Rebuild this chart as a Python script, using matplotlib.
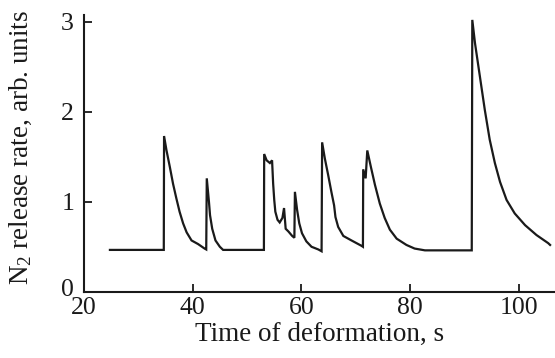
import numpy as np
import matplotlib
matplotlib.use('Agg')
import matplotlib.pyplot as plt
import matplotlib.transforms as mtransforms

plt.rcParams['font.family'] = 'Liberation Serif'
plt.rcParams['mathtext.fontset'] = 'custom'
plt.rcParams['mathtext.rm'] = 'Liberation Serif'
plt.rcParams['mathtext.it'] = 'Liberation Serif:italic'

# Curve: time (s) and N2 release rate (arb. units)
time = [24.8, 34.7, 34.75, 35.2, 35.8, 36.4, 37.0, 37.6, 38.25, 38.9,
        39.8, 41.0, 42.2, 42.5, 42.6, 43.0, 43.2, 43.6, 44.2, 45.0,
        45.6, 53.1, 53.15, 53.6, 54.2, 54.6, 54.8, 55.0, 55.2, 55.6,
        56.0, 56.5, 56.8, 57.1, 57.6, 58.3, 58.7, 58.8, 59.2, 59.6,
        60.1, 60.9, 61.85, 63.1, 63.7, 63.8, 64.3, 64.9, 65.5, 66.0,
        66.25, 66.75, 67.7, 69.2, 71.05, 71.3, 71.35, 71.8, 72.1, 72.75,
        73.5, 74.4, 75.3, 76.25, 77.5, 79.3, 80.8, 82.7, 91.3, 91.4,
        91.9, 92.8, 93.7, 94.6, 95.55, 96.5, 97.7, 99.2, 101.1, 103.2,
        105.35, 105.7]
rate = [0.465, 0.465, 1.73, 1.57, 1.39, 1.20, 1.04, 0.89, 0.76, 0.66,
        0.57, 0.53, 0.48, 0.47, 1.26, 1.00, 0.85, 0.70, 0.57, 0.50,
        0.465, 0.465, 1.53, 1.46, 1.43, 1.46, 1.20, 1.02, 0.89, 0.80,
        0.77, 0.82, 0.93, 0.70, 0.67, 0.62, 0.60, 1.11, 0.91, 0.76,
        0.65, 0.56, 0.50, 0.47, 0.45, 1.66, 1.48, 1.30, 1.11, 0.96,
        0.83, 0.72, 0.62, 0.57, 0.51, 0.50, 1.36, 1.26, 1.57, 1.39,
        1.19, 0.98, 0.82, 0.69, 0.59, 0.52, 0.48, 0.46, 0.46, 3.02,
        2.76, 2.39, 2.02, 1.69, 1.43, 1.22, 1.02, 0.87, 0.74, 0.63,
        0.54, 0.52]

xticks = [20, 40, 60, 80, 100]
yticks = [0, 1, 2, 3]

fig = plt.figure(figsize=(5.55, 3.58), dpi=100)
ax = fig.add_axes([0.151, 0.185, 0.849, 0.773])
ax.plot(time, rate, color='#1a1a1a', linewidth=1.6, solid_joinstyle='miter')

ax.set_xlim(20, 106.6)
ax.set_ylim(0, 3.074)
ax.set_xticks(xticks)
ax.set_yticks(yticks)
ax.spines['top'].set_visible(False)
ax.spines['right'].set_visible(False)
for s in ['left', 'bottom']:
    ax.spines[s].set_linewidth(1.5)
    ax.spines[s].set_color('#1a1a1a')
ax.tick_params(axis='both', direction='in', length=6, width=1.3, labelsize=18.5, colors='#1a1a1a')
ax.tick_params(axis='x', pad=3.5)
ax.tick_params(axis='y', pad=7)

# nudge the "0" up a little so it does not sit on top of the "20"
zero_lbl = ax.yaxis.get_major_ticks()[0].label1
zero_lbl.set_transform(zero_lbl.get_transform()
                       + mtransforms.ScaledTranslation(0, 3 / 72, fig.dpi_scale_trans))

ax.set_xlabel('Time of deformation, s', fontsize=19.5, labelpad=2.5, color='#1a1a1a')
ax.set_ylabel('N$_2$ release rate, arb. units', fontsize=19.5, color='#1a1a1a')
ax.yaxis.set_label_coords(-0.106, 0.523)

fig.savefig('out.png', dpi=100)
